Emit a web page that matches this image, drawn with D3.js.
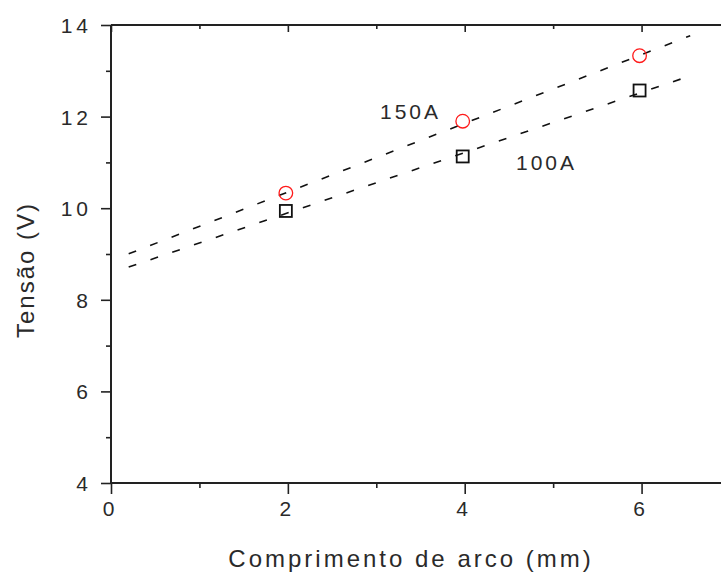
<!DOCTYPE html>
<html>
<head>
<meta charset="utf-8">
<script src="https://cdn.jsdelivr.net/npm/d3@7"></script>
<style>
  html, body { margin: 0; padding: 0; background: #fff; }
  svg { display: block; }
  text { font-family: "Liberation Sans Narrow", "Arial Narrow", "Liberation Sans", Arial, sans-serif; fill: #2a2a2a; }
</style>
</head>
<body>
<svg id="chart" width="721" height="572"></svg>
<script>
// Arc length (mm) and measured voltage (V) for two welding currents
const arcLength = [2, 4, 6];
const volts150A = [10.33, 11.9, 13.33];
const volts100A = [9.94, 11.13, 12.57];
const seriesNames = ["150A", "100A"];
const xTicks = [0, 1, 2, 3, 4, 5, 6, 7];
const yTicks = [4, 5, 6, 7, 8, 9, 10, 11, 12, 13, 14];
const fitRange = [0.2, 6.55];

const svg = d3.select("#chart");
const ink = "#222";

const x = d3.scaleLinear().domain([0, 7]).range([111, 730]);
const y = d3.scaleLinear().domain([4, 14]).range([483, 25]);

// least-squares trend for each series
function fit(xs, ys) {
  const mx = d3.mean(xs), my = d3.mean(ys);
  const sxy = d3.sum(xs, (v, i) => (v - mx) * (ys[i] - my));
  const sxx = d3.sum(xs, v => (v - mx) ** 2);
  const b = sxy / sxx;
  return v => my + b * (v - mx);
}

// frame lines
const frame = svg.append("g").attr("stroke", ink).attr("stroke-width", 2);
frame.append("line").attr("x1", x(0)).attr("x2", x(7)).attr("y1", y(4)).attr("y2", y(4));
frame.append("line").attr("x1", x(0)).attr("x2", x(7)).attr("y1", y(14)).attr("y2", y(14));
frame.append("line").attr("x1", x(0)).attr("x2", x(0)).attr("y1", y(4)).attr("y2", y(14));
frame.append("line").attr("x1", x(7)).attr("x2", x(7)).attr("y1", y(4)).attr("y2", y(14));

const isMajor = v => v % 2 === 0;

// left axis (outward ticks)
const leftAxis = svg.append("g").attr("transform", `translate(${x(0)},0)`)
  .call(d3.axisLeft(y).tickValues(yTicks)
    .tickSize(0).tickFormat(d => isMajor(d) ? d : ""));
leftAxis.select(".domain").remove();
leftAxis.selectAll(".tick line")
  .attr("x2", d => isMajor(d) ? -10 : -5)
  .attr("stroke", ink).attr("stroke-width", 1.6);
leftAxis.selectAll(".tick text")
  .attr("x", -19).attr("dy", "0.36em")
  .style("font-size", "21px").style("letter-spacing", "4px")
  .attr("fill", "#2a2a2a");

// bottom axis (outward ticks)
const bottomAxis = svg.append("g").attr("transform", `translate(0,${y(4)})`)
  .call(d3.axisBottom(x).tickValues(xTicks)
    .tickSize(0).tickFormat(d => isMajor(d) ? d : ""));
bottomAxis.select(".domain").remove();
bottomAxis.selectAll(".tick line")
  .attr("y2", d => isMajor(d) ? 11 : 5)
  .attr("stroke", ink).attr("stroke-width", 1.6);
bottomAxis.selectAll(".tick text")
  .attr("y", 18).attr("dy", "0.71em").attr("dx", "-3")
  .style("font-size", "21px")
  .attr("fill", "#2a2a2a");

// top axis (inward ticks)
const topAxis = svg.append("g").attr("transform", `translate(0,${y(14)})`)
  .call(d3.axisTop(x).tickValues(xTicks).tickSize(0).tickFormat(""));
topAxis.select(".domain").remove();
topAxis.selectAll(".tick line")
  .attr("y2", d => isMajor(d) ? 7 : 4)
  .attr("stroke", ink).attr("stroke-width", 1.6);

// dashed trend lines
const series = [
  { name: seriesNames[0], ys: volts150A },
  { name: seriesNames[1], ys: volts100A }
];
const line = d3.line().x(d => x(d[0])).y(d => y(d[1]));
series.forEach(s => {
  const f = fit(arcLength, s.ys);
  svg.append("path")
    .datum(fitRange.map(v => [v, f(v)]))
    .attr("d", line)
    .attr("fill", "none")
    .attr("stroke", "#111")
    .attr("stroke-width", 1.6)
    .attr("stroke-dasharray", "8,15");
});

// 150A: red circles
svg.append("g").selectAll("circle")
  .data(arcLength.map((v, i) => [v, volts150A[i]]))
  .join("circle")
  .attr("cx", d => x(d[0]) - 2)
  .attr("cy", d => y(d[1]))
  .attr("r", 6.8)
  .attr("fill", "none")
  .attr("stroke", "#ff1a1a")
  .attr("stroke-width", 1.3);

// 100A: black squares
const sq = 12;
svg.append("g").selectAll("rect")
  .data(arcLength.map((v, i) => [v, volts100A[i]]))
  .join("rect")
  .attr("x", d => x(d[0]) - 2 - sq / 2)
  .attr("y", d => y(d[1]) - sq / 2)
  .attr("width", sq).attr("height", sq)
  .attr("fill", "none")
  .attr("stroke", "#111")
  .attr("stroke-width", 1.8);

// series labels
svg.append("text").attr("x", 380).attr("y", 119)
  .style("font-size", "21px").style("letter-spacing", "3px")
  .text(seriesNames[0]);
svg.append("text").attr("x", 516).attr("y", 170)
  .style("font-size", "21px").style("letter-spacing", "3px")
  .text(seriesNames[1]);

// axis titles
svg.append("text")
  .attr("x", 411).attr("y", 567)
  .attr("text-anchor", "middle")
  .style("font-size", "24px").style("letter-spacing", "3px")
  .text("Comprimento de arco (mm)");
svg.append("text")
  .attr("transform", "translate(34,270) rotate(-90)")
  .attr("text-anchor", "middle")
  .style("font-size", "24px").style("letter-spacing", "2px")
  .text("Tensão (V)");
</script>
</body>
</html>
